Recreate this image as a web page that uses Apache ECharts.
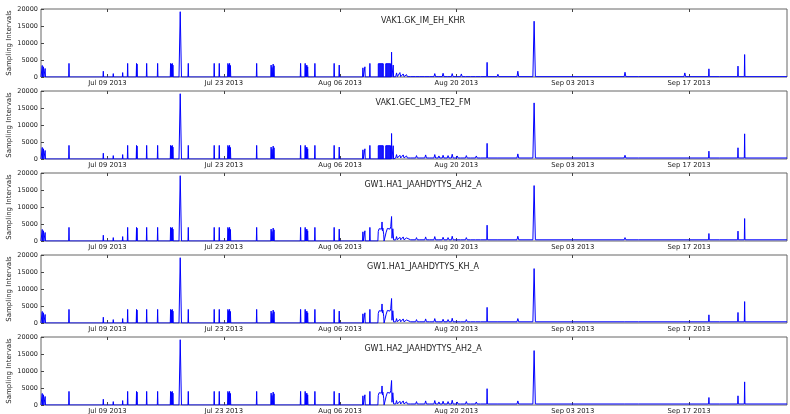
<!DOCTYPE html>
<html><head><meta charset="utf-8">
<script src="https://cdn.jsdelivr.net/npm/echarts@6/dist/echarts.min.js"></script>
<style>html,body{margin:0;padding:0;background:#fff}#c{width:790px;height:414px}</style>
</head><body><div id="c"></div>
<script>
// ---- DATA (x = days since 2013-07-01 00:00) ----
const xMin = 0, xMax = 89.8;
const tickDays = [8, 22, 36, 50, 64, 78];
const tickLabels = ['Jul 09 2013', 'Jul 23 2013', 'Aug 06 2013', 'Aug 20 2013', 'Sep 03 2013', 'Sep 17 2013'];
const yTicks = [0, 5000, 10000, 15000, 20000];
const panelTitles = ['VAK1.GK_IM_EH_KHR', 'VAK1.GEC_LM3_TE2_FM', 'GW1.HA1_JAAHDYTYS_AH2_A', 'GW1.HA1_JAAHDYTYS_KH_A', 'GW1.HA2_JAAHDYTYS_AH2_A'];
const yAxisName = 'Sampling Intervals';

// spikes common to all sensors (Jul 1 - Aug 10)
const earlyDays = [0.15, 0.3, 0.5, 3.37, 7.5, 8.7, 9.83, 10.43, 11.5, 11.56, 12.72, 14.04, 15.6, 15.7, 15.8, 15.88, 16.76, 17.73, 20.85, 21.46, 22.5, 22.6, 22.7, 22.8, 25.96, 27.7, 27.8, 27.95, 28.05, 31.25, 31.8, 31.9, 32.0, 32.1, 32.97, 35.29, 35.9, 38.75, 38.99, 39.59];
const earlyVals = [3400, 3000, 2500, 4000, 1700, 1000, 1300, 4000, 4000, 3800, 4000, 4000, 4000, 3800, 4000, 3500, 19200, 4000, 4000, 4000, 4000, 3600, 4000, 3400, 4000, 3500, 2800, 3800, 3300, 4000, 4000, 3300, 3500, 3000, 4000, 4000, 3500, 2700, 3000, 4000];

// dense blocks (VAK1 sensors)
const blockStart = [40.6, 41.5];
const blockEnd = [41.2, 42.08];
const blockVal = [3900, 3900];

// arc-shaped cluster (GW1 sensors)
const arcDays = [40.55, 40.6, 40.7, 40.85, 41.0, 41.05, 41.1, 41.15, 41.25, 41.3, 41.5, 41.55, 41.7, 41.85, 42.0, 42.1, 42.2, 42.25, 42.35, 42.4, 42.45];
const arcVals = [0, 2800, 3600, 3900, 3500, 5600, 3000, 3800, 2000, 0, 0, 2600, 3700, 3900, 3500, 4200, 7200, 800, 3600, 3400, 300];

// small bumps after Aug 10
const bumpDays = [42.8, 43.2, 43.6, 44.0, 44.6, 45.2, 45.7, 46.3, 46.9, 47.4, 47.9, 48.4, 49.0, 49.5, 50.1, 50.6, 51.2, 51.8, 52.4, 53.0];
const bumpVals1 = [1200, 1300, 900, 700, 300, 400, 300, 600, 300, 1000, 300, 1100, 300, 1000, 300, 900, 300, 600, 600, 300];
const bumpVals2 = [1300, 1100, 1200, 900, 800, 1000, 700, 1200, 800, 1300, 900, 1100, 1000, 1400, 900, 800, 1000, 700, 900, 600];

// later spikes
const lateDays = [42.2, 42.4, 53.7, 55.0, 57.4, 59.36, 70.3, 72.0, 77.5, 80.4, 81.8, 83.9, 84.7];
const lateVals1 = [7300, 3500, 4300, 800, 1700, 16400, 1400, 500, 1200, 2400, 400, 3200, 6600];
const lateVals2 = [7500, 3900, 4600, 700, 1500, 16500, 1100, 500, 800, 2300, 500, 3300, 7400];
const lateVals3 = [0, 0, 4650, 600, 1400, 16300, 1000, 600, 700, 2200, 500, 2900, 6600];
const lateVals4 = [0, 0, 4600, 600, 1300, 16000, 900, 500, 700, 2400, 500, 3100, 6300];
const lateVals5 = [0, 0, 4800, 500, 1200, 16000, 800, 400, 600, 2200, 400, 2700, 6800];

const baseAfter = [100, 300, 350, 350, 300];

// ---- BUILD ----
function buildLine(spD, spV, extraD, extraV, base) {
  const pts = [];
  spD.forEach((d, i) => {
    const v = spV[i];
    if (!v) return;
    const b = d > 42.5 ? base : 0;
    const h = v > 10000 ? 0.15 : (d > 42.5 && v < 2000 ? 0.1 : 0.04);
    pts.push([d - h, b], [d, v], [d + h, b]);
  });
  extraD.forEach((d, i) => pts.push([d, extraV[i]]));
  pts.push([xMin, 0], [42.55, base], [xMax, base]);
  pts.sort((a, b) => a[0] - b[0]);
  return pts;
}
function buildBlocks() {
  const pts = [];
  blockStart.forEach((s, i) => { pts.push([s, 0], [s, blockVal[i]], [blockEnd[i], blockVal[i]], [blockEnd[i], 0], null); });
  return pts;
}

const panelTops = [9, 91, 173, 255, 337];
const panelH = 68;
const panels = [
  { spD: earlyDays.concat(lateDays, bumpDays), spV: earlyVals.concat(lateVals1, bumpVals1), exD: [], exV: [], blocks: true },
  { spD: earlyDays.concat(lateDays, bumpDays), spV: earlyVals.concat(lateVals2, bumpVals2), exD: [], exV: [], blocks: true },
  { spD: earlyDays.concat(lateDays, bumpDays), spV: earlyVals.concat(lateVals3, bumpVals2), exD: arcDays, exV: arcVals, blocks: false },
  { spD: earlyDays.concat(lateDays, bumpDays), spV: earlyVals.concat(lateVals4, bumpVals2), exD: arcDays, exV: arcVals, blocks: false },
  { spD: earlyDays.concat(lateDays, bumpDays), spV: earlyVals.concat(lateVals5, bumpVals2), exD: arcDays, exV: arcVals, blocks: false }
];

const FONT = 'DejaVu Sans';
const grid = [], xAxis = [], yAxis = [], series = [], title = [];
panels.forEach((p, i) => {
  grid.push({ left: 41, right: 3, top: panelTops[i], height: panelH, show: true, borderColor: '#666', borderWidth: 1, backgroundColor: '#fff', containLabel: false, outerBoundsMode: 'none' });
  xAxis.push({
    type: 'value', gridIndex: i, min: xMin, max: xMax, position: 'bottom',
    splitLine: { show: false }, axisLine: { show: false },
    axisTick: { show: true, inside: true, length: 3, lineStyle: { color: '#444' }, customValues: tickDays },
    axisLabel: { customValues: tickDays, formatter: v => tickLabels[tickDays.indexOf(v)], fontFamily: FONT, fontSize: 6.8, color: '#222', margin: 3 }
  });
  xAxis.push({
    type: 'value', gridIndex: i, min: xMin, max: xMax, position: 'top',
    splitLine: { show: false }, axisLine: { show: false },
    axisTick: { show: true, inside: true, length: 3, lineStyle: { color: '#444' }, customValues: tickDays },
    axisLabel: { show: false }
  });
  yAxis.push({
    type: 'value', gridIndex: i, min: 0, max: 20000, interval: 5000,
    splitLine: { show: false }, axisLine: { show: false },
    axisTick: { show: true, inside: true, length: 3, lineStyle: { color: '#444' } },
    axisLabel: { fontFamily: FONT, fontSize: 6.5, color: '#222', margin: 3, formatter: v => String(v) },
    name: yAxisName, nameLocation: 'middle', nameGap: 28, nameRotate: 90, nameMoveOverlap: false,
    nameTextStyle: { fontFamily: FONT, fontSize: 7, color: '#222' }
  });
  series.push({
    type: 'line', xAxisIndex: i * 2, yAxisIndex: i, showSymbol: false, animation: false,
    data: buildLine(p.spD, p.spV, p.exD, p.exV, baseAfter[i]),
    lineStyle: { color: '#0000ff', width: 1 }, z: 3
  });
  if (p.blocks) {
    series.push({
      type: 'line', xAxisIndex: i * 2, yAxisIndex: i, showSymbol: false, animation: false, connectNulls: false,
      data: buildBlocks(), lineStyle: { color: '#0000ff', width: 1 }, areaStyle: { color: '#0000ff', opacity: 0.9 }, z: 3
    });
  }
  title.push({ text: panelTitles[i], left: 418, top: panelTops[i] + 3, textAlign: 'center',
    textStyle: { fontFamily: FONT, fontSize: 8, fontWeight: 'normal', color: '#222' } });
});

const chart = echarts.init(document.getElementById('c'), null, { renderer: 'canvas' });
chart.setOption({ animation: false, backgroundColor: '#fff', title, grid, xAxis, yAxis, series });
</script></body></html>
